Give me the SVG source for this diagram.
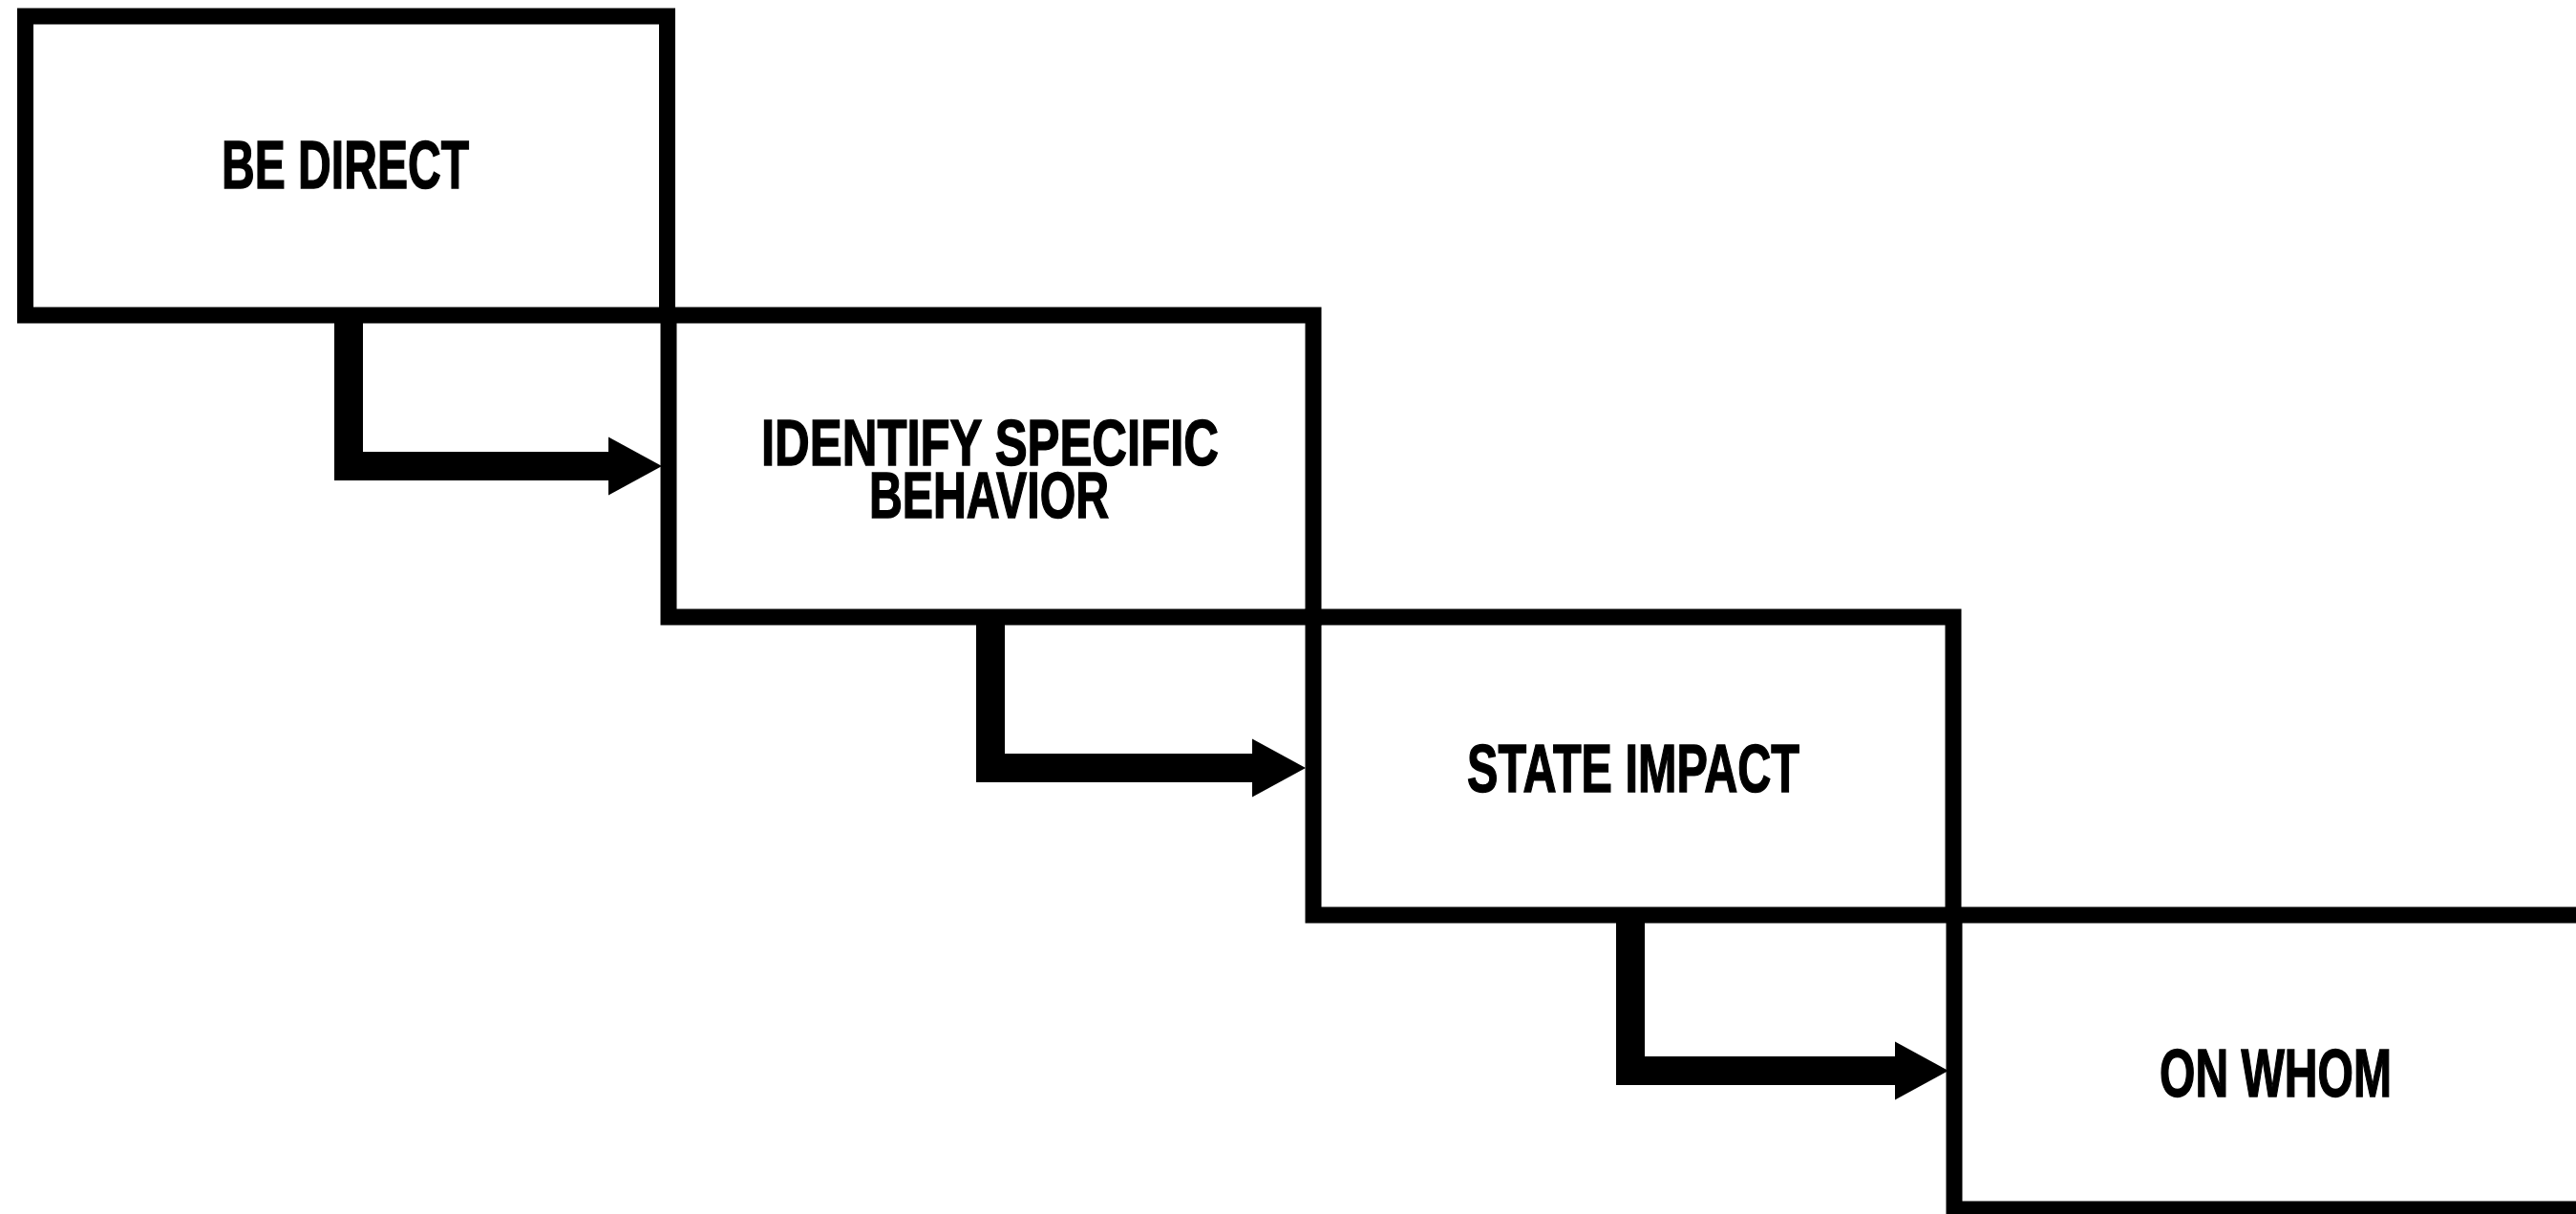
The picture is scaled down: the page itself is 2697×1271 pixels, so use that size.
<svg xmlns="http://www.w3.org/2000/svg" width="2697" height="1271" viewBox="0 0 2697 1271">
  <style>
    .box { fill: none; stroke: #000; stroke-width: 17; }
    .conn { fill: none; stroke: #000; stroke-width: 30; stroke-linejoin: miter; stroke-linecap: butt; }
    .lbl { font-family: "Liberation Sans Narrow", "Liberation Sans", Arial, sans-serif; font-weight: bold; font-size: 71px; fill: #000; stroke: #000; stroke-width: 1.5; }
    .lbl2 { font-size: 69px; }
  </style>
  <defs>
    <marker id="head" markerUnits="userSpaceOnUse" markerWidth="60" markerHeight="64" viewBox="0 -32 60 64" refX="3" refY="0" orient="auto">
      <polygon points="0,-30.5 56,0 0,30.5" fill="#000"/>
    </marker>
  </defs>
  <rect x="0" y="0" width="2697" height="1271" fill="#fff"/>
  <g id="connectors">
    <path class="conn" d="M365,330 V488 H640" marker-end="url(#head)"/>
    <path class="conn" d="M1037,646 V804 H1314" marker-end="url(#head)"/>
    <path class="conn" d="M1707,958 V1121 H1987" marker-end="url(#head)"/>
  </g>
  <g id="node-be-direct">
    <rect class="box" x="26.5" y="17" width="672" height="313"/>
    <text class="lbl" x="232" y="197" textLength="259" lengthAdjust="spacingAndGlyphs">BE DIRECT</text>
  </g>
  <g id="node-identify">
    <rect class="box" x="700" y="330" width="675" height="316"/>
    <text class="lbl lbl2"><tspan x="797" y="487" textLength="479" lengthAdjust="spacingAndGlyphs">IDENTIFY SPECIFIC</tspan><tspan x="910" y="542" textLength="251" lengthAdjust="spacingAndGlyphs">BEHAVIOR</tspan></text>
  </g>
  <g id="node-state-impact">
    <rect class="box" x="1375" y="646" width="670" height="312"/>
    <text class="lbl" x="1536" y="829" textLength="348" lengthAdjust="spacingAndGlyphs">STATE IMPACT</text>
  </g>
  <g id="node-on-whom">
    <rect class="box" x="2046" y="958" width="680" height="308"/>
    <text class="lbl" x="2261" y="1148" textLength="243" lengthAdjust="spacingAndGlyphs">ON WHOM</text>
  </g>
</svg>
